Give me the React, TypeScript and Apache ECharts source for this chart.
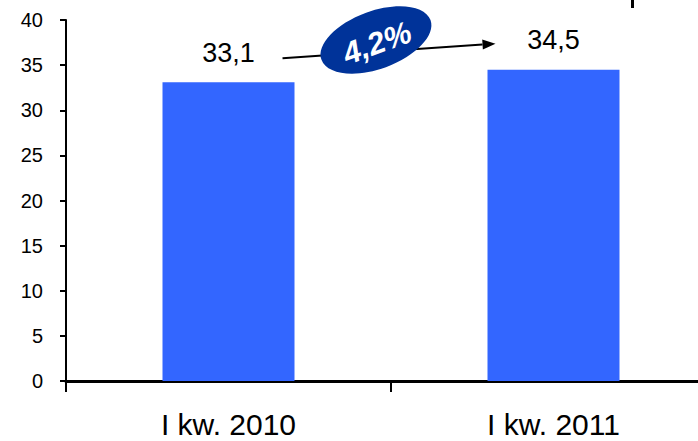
import React, { useEffect, useRef } from "react";
import * as echarts from "echarts";

const categories = ["I kw. 2010", "I kw. 2011"];
const values = [33.1, 34.5];
const valueLabels = ["33,1", "34,5"];
const growthLabel = "4,2%";
const yMin = 0;
const yMax = 40;
const yInterval = 5;

export default function App() {
  const ref = useRef<HTMLDivElement>(null);

  useEffect(() => {
    if (!ref.current) return;
    const chart = echarts.init(ref.current, null, { renderer: "svg" });
    chart.setOption({
      animation: false,
      backgroundColor: "#ffffff",
      grid: { left: 66, top: 20, right: 0, bottom: 60, containLabel: false },
      xAxis: {
        type: "category",
        data: categories,
        boundaryGap: true,
        axisLine: { show: true, lineStyle: { color: "#000", width: 3 } },
        axisTick: { show: true, length: 11, lineStyle: { color: "#000", width: 2 } },
        axisLabel: {
          color: "#000",
          fontFamily: "Liberation Sans, Arial, sans-serif",
          fontSize: 30,
          margin: 28,
        },
      },
      yAxis: {
        type: "value",
        min: yMin,
        max: yMax,
        interval: yInterval,
        splitLine: { show: false },
        axisLine: { show: true, lineStyle: { color: "#000", width: 2 } },
        axisTick: { show: true, length: 6, lineStyle: { color: "#000", width: 2 } },
        axisLabel: {
          color: "#000",
          fontFamily: "Liberation Sans, Arial, sans-serif",
          fontSize: 20,
          margin: 23,
        },
      },
      series: [
        {
          type: "bar",
          data: values,
          barWidth: 132,
          itemStyle: { color: "#3366FF" },
          label: {
            show: true,
            position: "top",
            distance: 16,
            color: "#000",
            fontFamily: "Liberation Sans, Arial, sans-serif",
            fontSize: 27,
            formatter: (p: any) => valueLabels[p.dataIndex],
          },
        },
      ],
    });

    const p1 = chart.convertToPixel({ seriesIndex: 0 }, [0, values[0]]) as number[];
    const p2 = chart.convertToPixel({ seriesIndex: 0 }, [1, values[1]]) as number[];
    const start = [p1[0] + 54, p1[1] - 24];
    const end = [p2[0] - 58, p2[1] - 26];
    const ang = Math.atan2(end[1] - start[1], end[0] - start[0]);
    const headLen = 13;
    const headW = 5;
    const base = [end[0] - headLen * Math.cos(ang), end[1] - headLen * Math.sin(ang)];
    const nx = -Math.sin(ang);
    const ny = Math.cos(ang);
    const cx = (start[0] + end[0]) / 2 - 13;
    const cy = (start[1] + end[1]) / 2 - 11;
    const rot = (20 * Math.PI) / 180;

    chart.setOption({
      graphic: [
        {
          type: "line",
          shape: { x1: start[0], y1: start[1], x2: base[0], y2: base[1] },
          style: { stroke: "#000", lineWidth: 2 },
          z: 10,
        },
        {
          type: "polygon",
          shape: {
            points: [
              [end[0], end[1]],
              [base[0] + nx * headW, base[1] + ny * headW],
              [base[0] - nx * headW, base[1] - ny * headW],
            ],
          },
          style: { fill: "#000" },
          z: 10,
        },
        {
          type: "ellipse",
          x: cx,
          y: cy,
          rotation: rot,
          shape: { cx: 0, cy: 0, rx: 58, ry: 29 },
          style: { fill: "#003399" },
          z: 11,
        },
        {
          type: "text",
          x: cx + 1,
          y: cy + 3,
          rotation: rot,
          style: {
            text: growthLabel,
            fill: "#fff",
            font: "italic bold 31px 'Liberation Sans', Arial, sans-serif",
            textAlign: "center",
            textVerticalAlign: "middle",
          },
          z: 12,
        },
        {
          type: "rect",
          shape: { x: 631, y: 0, width: 3, height: 8 },
          style: { fill: "#000" },
          z: 10,
        },
      ],
    });

    return () => chart.dispose();
  }, []);

  return (
    <div
      style={{
        position: "fixed",
        left: 0,
        top: 0,
        width: 698,
        height: 441,
        overflow: "hidden",
        background: "#fff",
      }}
    >
      <div ref={ref} style={{ width: 716, height: 441 }} />
    </div>
  );
}
